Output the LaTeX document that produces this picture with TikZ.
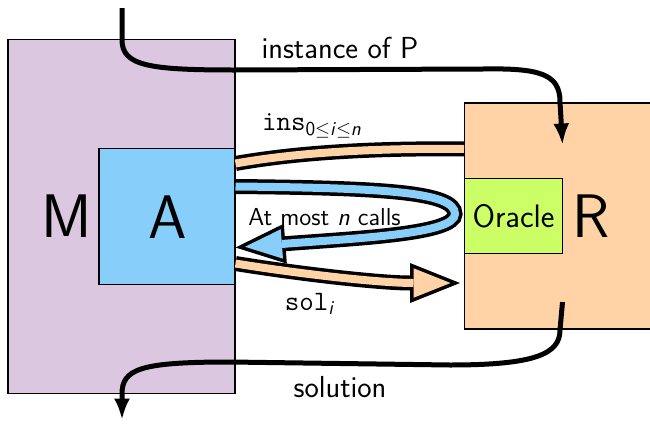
\documentclass[tikz,border=0pt]{standalone}
\usetikzlibrary{arrows.meta}

\definecolor{mviolet}{RGB}{220,199,225}
\definecolor{askyblue}{RGB}{135,206,250}
\definecolor{rpeach}{RGB}{255,211,165}
\definecolor{olime}{RGB}{204,255,102}

\tikzset{
        box/.style = {draw, line width=0.6pt, inner sep=0pt},
        big/.style = {font=\sffamily\fontsize{35}{40}\selectfont},
        lbl/.style = {font=\sffamily\fontsize{17.3}{20}\selectfont},
        small/.style = {font=\sffamily\fontsize{14}{17}\selectfont},
        code/.style = {font=\sffamily\fontsize{16}{19}\selectfont},
        band/.style = {draw=black, line width=0.30cm,
            postaction={draw=#1, line width=0.16cm}},
        fatarrow/.style = {draw=black, line width=0.30cm,
            -{Triangle[length=1.0cm, width=0.8cm, line width=0pt]},
            postaction={draw=#1, line width=0.16cm, shorten >=0.19cm,
                -{Triangle[length=0.74cm, width=0.59cm, line width=0pt]}}},
        flow/.style = {line width=0.1cm, -{Latex[length=0.43cm, width=0.32cm]}}
    }

\begin{document}
\begin{tikzpicture}[x=0.02cm, y=0.02cm]
            \useasboundingbox (0,0) rectangle (650,424);
            \clip (0,0) rectangle (650,424);

            % boxes
            \node[box, fill=mviolet, minimum width=4.54cm, minimum height=7.1cm] (M) at (121.5,207.5) {};
            \node[box, fill=askyblue, minimum size=2.72cm, anchor=east] (A) at (M.east) {};
            \node[box, fill=rpeach, minimum width=3.92cm, minimum height=4.52cm, anchor=west] (R) at (464,208) {};
            \node[box, fill=olime, minimum width=1.96cm, minimum height=1.5cm, anchor=west,
                font=\sffamily\fontsize{18.5}{22}\selectfont] (oracle) at (R.west) {Oracle};

            \node[big] (M-name) at (66.5,207.5) {M};
            \node[big] (A-name) at (167.5,207) {A};
            \node[big] (R-name) at (591,207.5) {R};

            % calls between A and the oracle
            \path (A.east) ++(0,53) coordinate (ins-a);
            \path (A.east) ++(0,30) coordinate (call-a);
            \path (A.east) ++(0,-31) coordinate (back-a);
            \path (A.east) ++(0,-47) coordinate (sol-a);
            \path (R.west) ++(0,67) coordinate (ins-r);
            \path (R.west) ++(-4,-67) coordinate (sol-r);

            \draw[band=rpeach] (ins-a) .. controls (300,272) and (380,276) .. (ins-r);
            \draw[fatarrow=askyblue] (call-a) .. controls (385,236) and (455,232) .. (455,210)
                .. controls (455,190) and (360,186) .. (back-a);
            \draw[fatarrow=rpeach] (sol-a) .. controls (300,150) and (380,141) .. (sol-r);

            \node[code] (ins) at (312,298)
                {\texttt{ins}\textsubscript{0$\leq$\textit{i}$\leq$\textit{n}}};
            \node[small] (calls) at (324.5,207) {At most \textit{n} calls};
            \node[code] (sol) at (310,120) {\texttt{sol}\textsubscript{\textit{i}}};

            % instance in, solution out
            \coordinate (in) at (122,416);
            \coordinate (out) at (122,4);
            \draw[flow] (in) -- (122,384) .. controls (122,358) and (150,354) .. (235,354)
                -- (483,355) .. controls (540,356) and (560,350) .. (560,322) -- (R.north |- 0,279);
            \draw[flow] (R.south |- 0,122) -- (560,94) .. controls (560,70) and (535,59) .. (450,59)
                -- (230,62) .. controls (140,62) and (122,55) .. (122,30) -- (out);

            \node[lbl] (instance) at (340,376) {instance of P};
            \node[lbl] (solution) at (340,37) {solution};

        \end{tikzpicture}
\end{document}
